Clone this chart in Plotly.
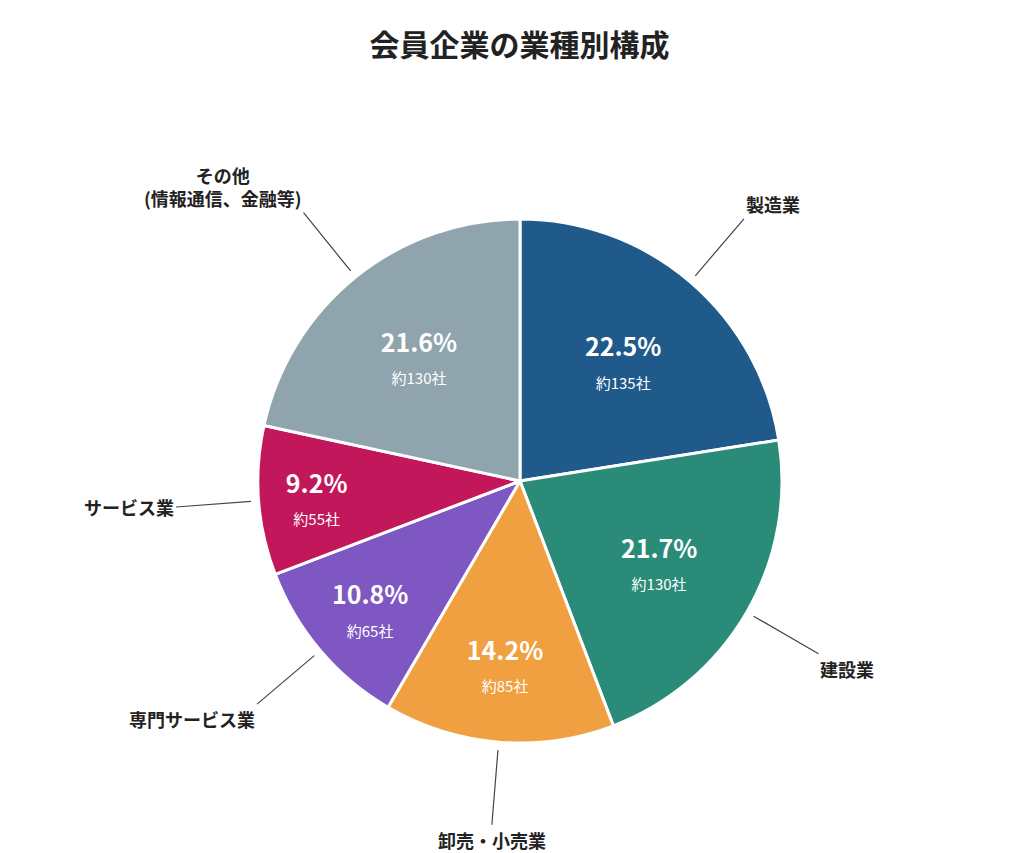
import math
import plotly.graph_objects as go

labels = ["製造業", "建設業", "卸売・小売業", "専門サービス業", "サービス業", "その他<br>(情報通信、金融等)"]
shares = [22.5, 21.7, 14.2, 10.8, 9.2, 21.6]
counts = [135, 130, 85, 65, 55, 130]
colors = ["#1f5a8a", "#2a8c78", "#f0a040", "#7e57c2", "#c2185b", "#90a4ae"]

W, H = 1023, 853
cx, cy, r = 512, 473, 262
font = "Noto Sans CJK JP"

fig = go.Figure(go.Pie(
    labels=labels, values=shares, sort=False, direction="clockwise", rotation=0,
    marker=dict(colors=colors, line=dict(color="white", width=3)),
    customdata=[[f"{s:.1f}%", c] for s, c in zip(shares, counts)],
    texttemplate="<b>%{customdata[0]}</b><br><span style='font-size:15px'>約%{customdata[1]}社</span>",
    textposition="inside", insidetextorientation="horizontal",
    textfont=dict(color="white", size=25, family=font),
    hoverinfo="label+percent", showlegend=False,
    domain=dict(x=[(cx - r) / W, (cx + r) / W], y=[(H - cy - r) / H, (H - cy + r) / H]),
))

# outside labels with leader lines
total = sum(shares)
acc = 0
for lab, s in zip(labels, shares):
    mid = (acc + s / 2) / total * 2 * math.pi
    acc += s
    dx, dy = math.sin(mid), -math.cos(mid)
    px_, py_ = cx + dx * r * 1.03, cy + dy * r * 1.03
    off = 75
    fig.add_annotation(
        x=px_ / W, y=1 - py_ / H, xref="paper", yref="paper",
        ax=dx * off, ay=dy * off, showarrow=True, arrowhead=0, arrowwidth=1.2,
        arrowcolor="#444", text=f"<b>{lab}</b>",
        xanchor="left" if dx > 0.2 else ("right" if dx < -0.2 else "center"),
        yanchor="bottom" if dy < -0.5 else ("top" if dy > 0.5 else "middle"),
        font=dict(size=18, color="#222", family=font),
    )

fig.update_layout(
    width=W, height=H, margin=dict(l=0, r=0, t=0, b=0),
    paper_bgcolor="white",
    title=dict(text="<b>会員企業の業種別構成</b>", x=0.5, y=0.968, xanchor="center",
               font=dict(size=30, color="#222", family=font)),
)
fig.write_html("out.html")
